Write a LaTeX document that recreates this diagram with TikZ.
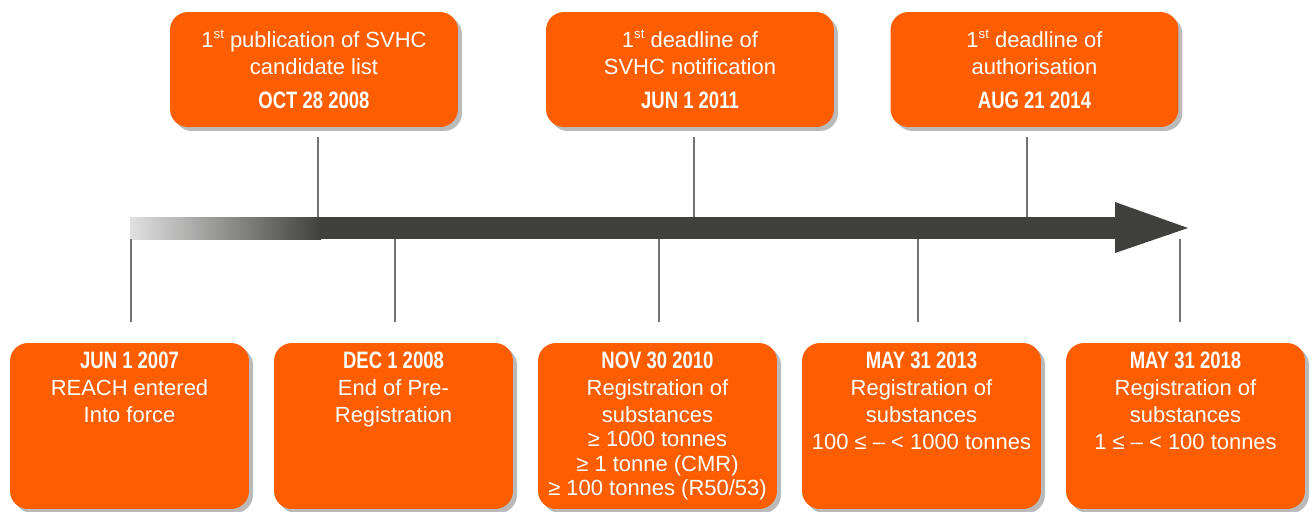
\documentclass[tikz,border=0pt]{standalone}
\usepackage{fontspec}
\setmainfont{Liberation Sans}
\newfontfamily\datefont[FakeStretch=0.78]{Liberation Sans}
\usetikzlibrary{shadows}
\definecolor{reachorange}{RGB}{255,94,0}
\definecolor{arrowgrey}{RGB}{64,64,62}
\newcommand\datetxt[1]{{\datefont\bfseries\fontsize{13.5}{16}\selectfont #1}}
\newcommand\ordst{\raisebox{.42em}{\fontsize{7.5}{8}\selectfont st}}
\newcommand\lowtxt[1]{\parbox[t][3.32cm][t]{4.78cm}{\centering\vspace{5pt}#1}}
\tikzset{
	box/.style={fill=reachorange,text=white,rounded corners=.36cm,
		font=\fontsize{12.5}{15.4}\selectfont,
		drop shadow={shadow xshift=.08cm,shadow yshift=-.08cm,opacity=.45,fill=black!60}},
	highbox/.style={box,align=center,inner sep=0pt,minimum width=5.76cm,minimum height=2.3cm},
	lowbox/.style={box,inner sep=0pt},
	tick/.style={draw=black!55,line width=.6pt}
}
\begin{document}
\begin{tikzpicture}[x=0.02cm,y=-0.02cm]
\useasboundingbox (0,0) rectangle (1312,511);
\coordinate (shaftT) at (0,217);
\coordinate (shaftB) at (0,239);
\shade[left color=black!12,right color=arrowgrey] (130,217) rectangle (321,239);
\fill[arrowgrey] (320,217) rectangle (1116,239);
\fill[arrowgrey] (1115,202) -- (1188,228) -- (1115,253) -- cycle;
\foreach \i/\x/\tx/\txt in {
	1/314/318/{1\ordst\ publication of SVHC\\candidate list\\[4pt]\datetxt{OCT 28 2008}},
	2/690/694/{1\ordst\ deadline of\\SVHC notification\\[4pt]\datetxt{JUN 1 2011}},
	3/1034.5/1027/{1\ordst\ deadline of\\authorisation\\[4pt]\datetxt{AUG 21 2014}}}{
	\node[highbox] (top\i) at (\x,69.5) {\txt};
	\coordinate (t\i) at (\tx,217);
	\draw[tick] (t\i) -- ([yshift=-.2cm]t\i |- top\i.south);
}
\foreach \i/\x/\tx/\txt in {
	1/129.5/131/{\datetxt{JUN 1 2007}\\REACH entered\\Into force},
	2/393.5/395/{\datetxt{DEC 1 2008}\\End of Pre-\\Registration},
	3/657.5/659/{\datetxt{NOV 30 2010}\\Registration of\\substances\\[-1.5pt]≥ 1000 tonnes\\[-1.5pt]≥ 1 tonne (CMR)\\[-1.5pt]≥ 100 tonnes (R50/53)},
	4/921.5/918/{\datetxt{MAY 31 2013}\\Registration of\\substances\\100 ≤ – < 1000 tonnes},
	5/1185.5/1180/{\datetxt{MAY 31 2018}\\Registration of\\substances\\1 ≤ – < 100 tonnes}}{
	\node[lowbox] (low\i) at (\x,426) {\lowtxt{\txt}};
	\coordinate (b\i) at (\tx,239);
	\draw[tick] (b\i) -- ([yshift=.42cm]b\i |- low\i.north);
}
\end{tikzpicture}
\end{document}
